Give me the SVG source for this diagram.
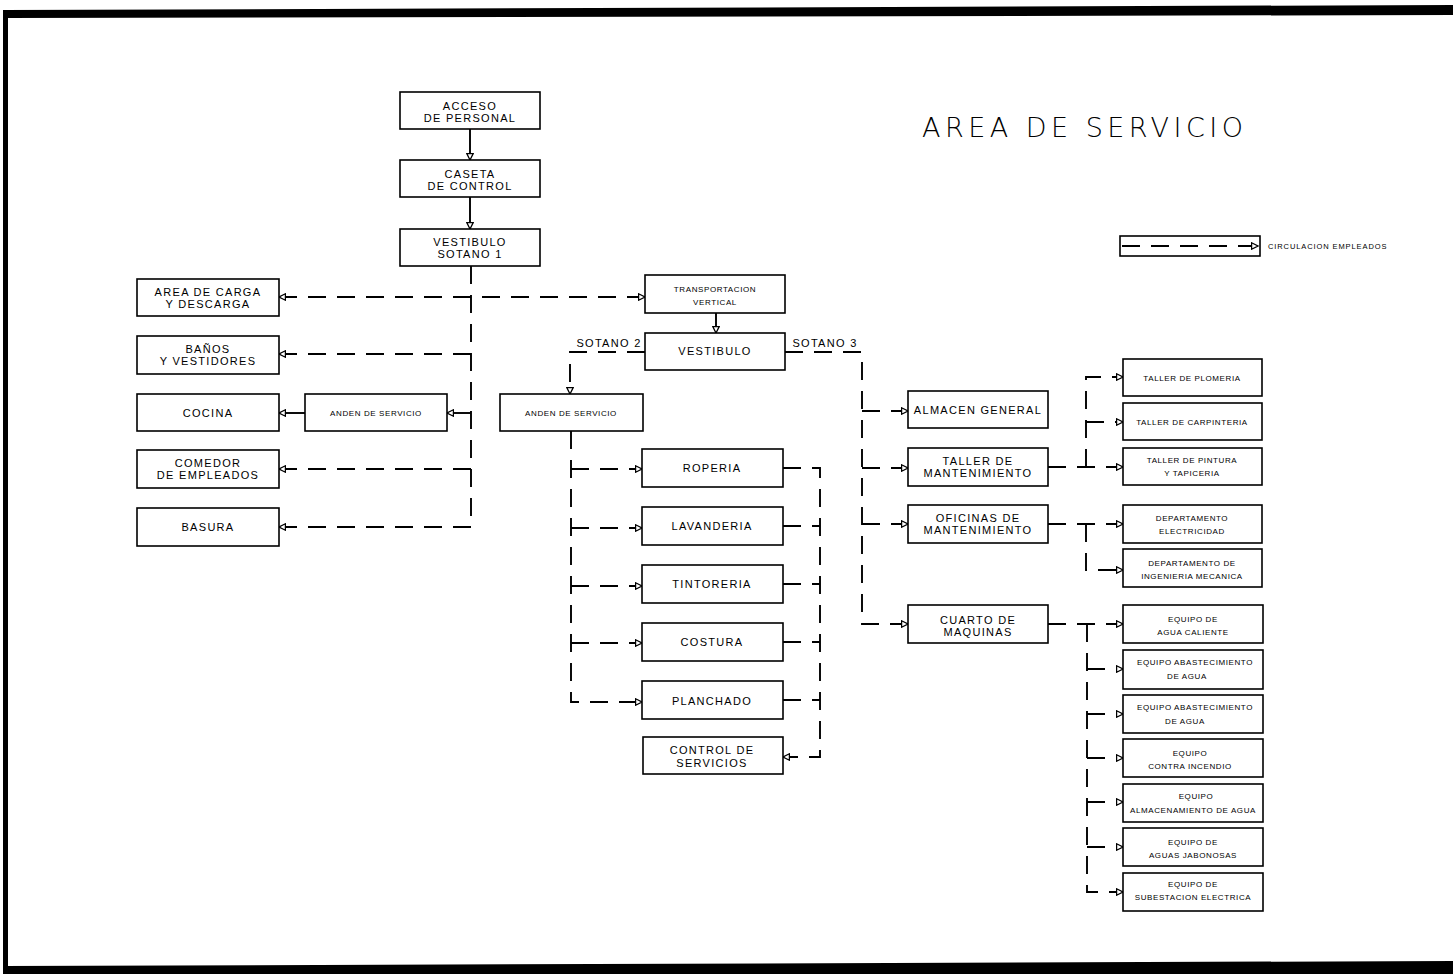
<svg xmlns="http://www.w3.org/2000/svg" width="1453" height="974" viewBox="0 0 1453 974">
  <style>
    .box { fill: #fff; stroke: #000; stroke-width: 1.6; }
    .t { font-family: "Liberation Sans", Arial, sans-serif; font-size: 11px; letter-spacing: 1.3px; fill: #000; text-anchor: middle; }
    .ts { font-family: "Liberation Sans", Arial, sans-serif; font-size: 8px; letter-spacing: 0.6px; fill: #000; text-anchor: middle; }
    .d { fill: none; stroke: #000; stroke-width: 1.9; stroke-dasharray: 18 11; }
    .s { fill: none; stroke: #000; stroke-width: 1.9; }
    .title { font-family: "DejaVu Sans", "Liberation Sans", sans-serif; font-weight: 200; font-size: 27px; fill: #000; }
  </style>
  <defs>
    <marker id="arr" viewBox="0 0 10 10" refX="9" refY="5" markerWidth="8" markerHeight="8" markerUnits="userSpaceOnUse" orient="auto-start-reverse">
      <path d="M1,1 L9,5 L1,9 Z" fill="#fff" stroke="#000" stroke-width="1.6"/>
    </marker>
  </defs>

  <rect width="1453" height="974" fill="#fff"/>

  <!-- sheet frame -->
  <g id="frame">
    <polygon points="4,10 1453,5 1453,15 4,18" fill="#000"/>
    <rect x="3" y="10" width="5" height="964" fill="#000"/>
    <polygon points="3,966 1453,961 1453,974 3,974" fill="#000"/>
  </g>

  <text class="title" x="922" y="137" textLength="321" lengthAdjust="spacing">AREA DE SERVICIO</text>

  <!-- legend -->
  <g id="legend">
    <rect x="1120" y="236" width="140" height="20" class="box"/>
    <path d="M1122,246 H1258" class="d" marker-end="url(#arr)"/>
    <text class="ts" x="1268" y="249" style="text-anchor:start;font-size:7.5px;letter-spacing:0.9px">CIRCULACION EMPLEADOS</text>
  </g>

  <!-- connectors -->
  <g id="connectors">
    <path d="M470,129 V160" class="s" marker-end="url(#arr)"/>
    <path d="M470,197 V229" class="s" marker-end="url(#arr)"/>
    <path d="M471,266 V527 H279" class="d" marker-end="url(#arr)"/>
    <path d="M279,297 H645" class="d" marker-start="url(#arr)" marker-end="url(#arr)"/>
    <path d="M471,354 H279" class="d" marker-end="url(#arr)"/>
    <path d="M471,413 H447" class="s" marker-end="url(#arr)"/>
    <path d="M305,413 H279" class="s" marker-end="url(#arr)"/>
    <path d="M471,469 H279" class="d" marker-end="url(#arr)"/>

    <path d="M716,313 V333" class="s" marker-end="url(#arr)"/>
    <path d="M645,352 H570 V394" class="d" marker-end="url(#arr)"/>
    <path d="M571,431 V702 H642" class="d" marker-end="url(#arr)"/>
    <path d="M571,469 H642" class="d" marker-end="url(#arr)"/>
    <path d="M571,528 H642" class="d" marker-end="url(#arr)"/>
    <path d="M571,586 H642" class="d" marker-end="url(#arr)"/>
    <path d="M571,643 H642" class="d" marker-end="url(#arr)"/>
    <path d="M783,468 H820 V757 H783" class="d" marker-end="url(#arr)"/>
    <path d="M783,526 H820" class="d"/>
    <path d="M783,584 H820" class="d"/>
    <path d="M783,642 H820" class="d"/>
    <path d="M783,700 H820" class="d"/>

    <path d="M785,352 H862 V624 H908" class="d" marker-end="url(#arr)"/>
    <path d="M862,411 H908" class="d" marker-end="url(#arr)"/>
    <path d="M862,468 H908" class="d" marker-end="url(#arr)"/>
    <path d="M862,524 H908" class="d" marker-end="url(#arr)"/>

    <path d="M1048,467 H1123" class="d" marker-end="url(#arr)"/>
    <path d="M1086,467 V377 H1123" class="d" marker-end="url(#arr)"/>
    <path d="M1086,422 H1123" class="d" marker-end="url(#arr)"/>
    <path d="M1048,524 H1123" class="d" marker-end="url(#arr)"/>
    <path d="M1086,524 V570 H1123" class="d" marker-end="url(#arr)"/>

    <path d="M1048,624 H1123" class="d" marker-end="url(#arr)"/>
    <path d="M1087,624 V892 H1123" class="d" marker-end="url(#arr)"/>
    <path d="M1087,669 H1123" class="d" marker-end="url(#arr)"/>
    <path d="M1087,714 H1123" class="d" marker-end="url(#arr)"/>
    <path d="M1087,758 H1123" class="d" marker-end="url(#arr)"/>
    <path d="M1087,802 H1123" class="d" marker-end="url(#arr)"/>
    <path d="M1087,847 H1123" class="d" marker-end="url(#arr)"/>
  </g>

  <text class="t" x="609" y="347">SOTANO 2</text>
  <text class="t" x="825" y="347">SOTANO 3</text>

  <!-- nodes -->
  <g id="acceso"><rect class="box" x="400" y="92" width="140" height="37"/><text class="t" x="470" y="110">ACCESO</text><text class="t" x="470" y="122">DE PERSONAL</text></g>
  <g id="caseta"><rect class="box" x="400" y="160" width="140" height="37"/><text class="t" x="470" y="178">CASETA</text><text class="t" x="470" y="190">DE CONTROL</text></g>
  <g id="vestibulo-s1"><rect class="box" x="400" y="229" width="140" height="37"/><text class="t" x="470" y="246">VESTIBULO</text><text class="t" x="470" y="258">SOTANO 1</text></g>

  <g id="carga"><rect class="box" x="137" y="279" width="142" height="37"/><text class="t" x="208" y="296">AREA DE CARGA</text><text class="t" x="208" y="308">Y DESCARGA</text></g>
  <g id="banos"><rect class="box" x="137" y="336" width="142" height="38"/><text class="t" x="208" y="353">BAÑOS</text><text class="t" x="208" y="365">Y VESTIDORES</text></g>
  <g id="cocina"><rect class="box" x="137" y="394" width="142" height="37"/><text class="t" x="208" y="417">COCINA</text></g>
  <g id="comedor"><rect class="box" x="137" y="450" width="142" height="38"/><text class="t" x="208" y="467">COMEDOR</text><text class="t" x="208" y="479">DE EMPLEADOS</text></g>
  <g id="basura"><rect class="box" x="137" y="508" width="142" height="38"/><text class="t" x="208" y="531">BASURA</text></g>
  <g id="anden-1"><rect class="box" x="305" y="394" width="142" height="37"/><text class="ts" x="376" y="416">ANDEN DE SERVICIO</text></g>

  <g id="transportacion"><rect class="box" x="645" y="275" width="140" height="38"/><text class="ts" x="715" y="292">TRANSPORTACION</text><text class="ts" x="715" y="305">VERTICAL</text></g>
  <g id="vestibulo"><rect class="box" x="645" y="333" width="140" height="37"/><text class="t" x="715" y="355">VESTIBULO</text></g>
  <g id="anden-2"><rect class="box" x="500" y="394" width="143" height="37"/><text class="ts" x="571" y="416">ANDEN DE SERVICIO</text></g>

  <g id="roperia"><rect class="box" x="642" y="449" width="141" height="38"/><text class="t" x="712" y="472">ROPERIA</text></g>
  <g id="lavanderia"><rect class="box" x="642" y="507" width="141" height="38"/><text class="t" x="712" y="530">LAVANDERIA</text></g>
  <g id="tintoreria"><rect class="box" x="642" y="565" width="141" height="38"/><text class="t" x="712" y="588">TINTORERIA</text></g>
  <g id="costura"><rect class="box" x="642" y="623" width="141" height="38"/><text class="t" x="712" y="646">COSTURA</text></g>
  <g id="planchado"><rect class="box" x="642" y="681" width="141" height="38"/><text class="t" x="712" y="705">PLANCHADO</text></g>
  <g id="control"><rect class="box" x="643" y="737" width="140" height="37"/><text class="t" x="712" y="754">CONTROL DE</text><text class="t" x="712" y="767">SERVICIOS</text></g>

  <g id="almacen"><rect class="box" x="908" y="391" width="140" height="37"/><text class="t" x="978" y="414">ALMACEN GENERAL</text></g>
  <g id="taller-mant"><rect class="box" x="908" y="448" width="140" height="38"/><text class="t" x="978" y="465">TALLER DE</text><text class="t" x="978" y="477">MANTENIMIENTO</text></g>
  <g id="oficinas"><rect class="box" x="908" y="505" width="140" height="38"/><text class="t" x="978" y="522">OFICINAS DE</text><text class="t" x="978" y="534">MANTENIMIENTO</text></g>
  <g id="cuarto"><rect class="box" x="908" y="605" width="140" height="38"/><text class="t" x="978" y="624">CUARTO DE</text><text class="t" x="978" y="636">MAQUINAS</text></g>

  <g id="plomeria"><rect class="box" x="1123" y="359" width="139" height="37"/><text class="ts" x="1192" y="381">TALLER DE PLOMERIA</text></g>
  <g id="carpinteria"><rect class="box" x="1123" y="403" width="139" height="37"/><text class="ts" x="1192" y="425">TALLER DE CARPINTERIA</text></g>
  <g id="pintura"><rect class="box" x="1123" y="448" width="139" height="37"/><text class="ts" x="1192" y="463">TALLER DE PINTURA</text><text class="ts" x="1192" y="476">Y TAPICERIA</text></g>
  <g id="electricidad"><rect class="box" x="1123" y="505" width="139" height="38"/><text class="ts" x="1192" y="521">DEPARTAMENTO</text><text class="ts" x="1192" y="534">ELECTRICIDAD</text></g>
  <g id="mecanica"><rect class="box" x="1123" y="549" width="139" height="38"/><text class="ts" x="1192" y="566">DEPARTAMENTO DE</text><text class="ts" x="1192" y="579">INGENIERIA MECANICA</text></g>

  <g id="agua-caliente"><rect class="box" x="1123" y="605" width="140" height="38"/><text class="ts" x="1193" y="622">EQUIPO DE</text><text class="ts" x="1193" y="635">AGUA CALIENTE</text></g>
  <g id="abastecimiento-1"><rect class="box" x="1123" y="650" width="140" height="39"/><text class="ts" x="1195" y="665">EQUIPO ABASTECIMIENTO</text><text class="ts" x="1187" y="679">DE AGUA</text></g>
  <g id="abastecimiento-2"><rect class="box" x="1123" y="695" width="140" height="38"/><text class="ts" x="1195" y="710">EQUIPO ABASTECIMIENTO</text><text class="ts" x="1185" y="724">DE AGUA</text></g>
  <g id="incendio"><rect class="box" x="1123" y="739" width="140" height="38"/><text class="ts" x="1190" y="756">EQUIPO</text><text class="ts" x="1190" y="769">CONTRA INCENDIO</text></g>
  <g id="almacenamiento"><rect class="box" x="1123" y="784" width="140" height="38"/><text class="ts" x="1196" y="799">EQUIPO</text><text class="ts" x="1193" y="813">ALMACENAMIENTO DE AGUA</text></g>
  <g id="jabonosas"><rect class="box" x="1123" y="828" width="140" height="38"/><text class="ts" x="1193" y="845">EQUIPO DE</text><text class="ts" x="1193" y="858">AGUAS JABONOSAS</text></g>
  <g id="subestacion"><rect class="box" x="1123" y="873" width="140" height="38"/><text class="ts" x="1193" y="887">EQUIPO DE</text><text class="ts" x="1193" y="900">SUBESTACION ELECTRICA</text></g>
</svg>
